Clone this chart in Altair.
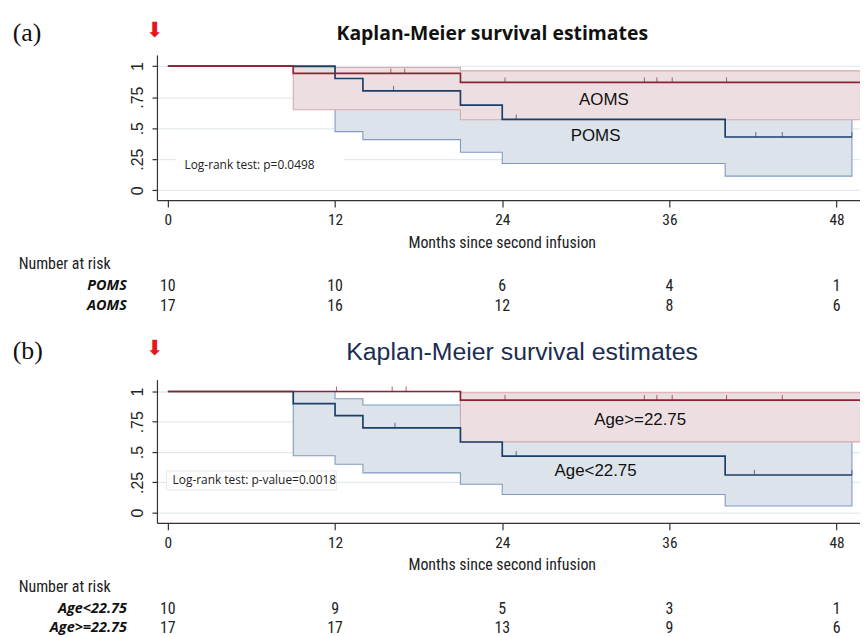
import altair as alt
import pandas as pd

# ---------------- data ----------------
risk_months = [0, 12, 24, 36, 48]
y_tick_values = [0, 0.25, 0.5, 0.75, 1]
y_tick_labels = ["0", ".25", ".5", ".75", "1"]

# panel (a)
a_aoms_t = [0, 9, 21, 51]
a_aoms_s = [1.0, 0.941, 0.869, 0.869]
a_aoms_ci_t = [9, 21, 51]
a_aoms_ci_lo = [0.648, 0.568, 0.568]
a_aoms_ci_hi = [0.989, 0.962, 0.962]
a_aoms_cens = [16.0, 17.0, 24.2, 34.2, 35.1, 36.2, 40.1]

a_poms_t = [0, 12, 14, 21, 24, 40, 49.1]
a_poms_s = [1.0, 0.9, 0.8, 0.686, 0.571, 0.429, 0.429]
a_poms_ci_t = [12, 14, 21, 24, 40, 49.1]
a_poms_ci_lo = [0.472, 0.408, 0.306, 0.216, 0.114, 0.114]
a_poms_ci_hi = [0.98, 0.95, 0.90, 0.82, 0.72, 0.72]
a_poms_cens = [16.2, 25.0, 42.2, 44.1, 49.1]

a_risk_poms = [10, 10, 6, 4, 1]
a_risk_aoms = [17, 16, 12, 8, 6]

# panel (b)
b_old_t = [0, 21, 51]
b_old_s = [1.0, 0.929, 0.929]
b_old_ci_t = [21, 51]
b_old_ci_lo = [0.584, 0.584]
b_old_ci_hi = [0.989, 0.989]
b_old_cens = [12.1, 16.1, 17.1, 24.2, 34.2, 35.1, 36.2, 40.1, 44.1]

b_young_t = [0, 9, 12, 14, 21, 24, 40, 49.1]
b_young_s = [1.0, 0.9, 0.8, 0.7, 0.583, 0.467, 0.311, 0.311]
b_young_ci_t = [9, 12, 14, 21, 24, 40, 49.1]
b_young_ci_lo = [0.47, 0.40, 0.328, 0.235, 0.15, 0.055, 0.055]
b_young_ci_hi = [1.0, 0.94, 0.888, 0.82, 0.76, 0.65, 0.65]
b_young_cens = [16.3, 25.0, 42.1, 49.1]

b_risk_young = [10, 9, 5, 3, 1]
b_risk_old = [17, 17, 13, 9, 6]

# ---------------- style ----------------
RED = "#8c2232"
BLUE = "#1b3f6b"
RED_FILL = "#eddfe1"
RED_EDGE = "#d7a9ae"
BLUE_FILL = "#dde3ea"
BLUE_EDGE = "#7f9bbd"
GRID = "#e3ebee"
AXIS = "#333333"
NARROW = "Liberation Sans Narrow, Arial Narrow, Roboto Condensed, Liberation Sans, Arial"
SANS = "Liberation Sans, Arial"
HUMAN = "Open Sans, Noto Sans"

W = 708
X0 = 157.3  # absolute left of plot area
XDOM = [-0.784, -0.784 + W / 14.03]


def step_lookup(ts, ss, c):
    v = ss[0]
    for t, s in zip(ts, ss):
        if t <= c:
            v = s
    return v


def xenc(field):
    return alt.X(field, type="quantitative",
                 scale=alt.Scale(domain=XDOM, nice=False, zero=False),
                 axis=alt.Axis(values=risk_months, title=None, grid=False,
                               tickSize=7, tickColor=AXIS, domainColor=AXIS,
                               domainWidth=1.2, tickWidth=1.2,
                               labelFont=NARROW, labelFontSize=15.5, labelColor="#222",
                               labelPadding=6, labelFlush=False))


def yenc(field, ydom):
    expr = "datum.value == 0 ? '0' : datum.value == 1 ? '1' : replace(format(datum.value, '.2~f'), '0.', '.')"
    return alt.Y(field, type="quantitative",
                 scale=alt.Scale(domain=ydom, nice=False, zero=False),
                 axis=alt.Axis(values=y_tick_values, title=None, grid=True,
                               gridColor=GRID, gridWidth=1.3,
                               tickSize=5, tickColor=AXIS, domainColor=AXIS,
                               domainWidth=1.2, tickWidth=1.2,
                               labelFont=SANS, labelFontSize=16, labelColor="#222",
                               labelAngle=270, labelAlign="center", labelBaseline="middle",
                               labelPadding=15, labelExpr=expr, labelFlush=False))


def txt(text, x, y, **kw):
    return alt.Chart(pd.DataFrame({"k": [0]})).mark_text(text=text, **kw).encode(
        x=alt.value(x), y=alt.value(y))


def panel(ydom, H, top_bound, bottom_bound, lowgrp, highgrp, lbl,
          title_kw, title_pos, logrank, box, box_stroke, grp_labels, axis_title_y,
          risk_rows, risk_labels):
    (lt, ls, lct, lclo, lchi, lcens) = lowgrp
    (ht, hs, hct, hclo, hchi, hcens) = highgrp
    X = xenc
    Y = lambda f: yenc(f, ydom)

    bound = alt.Chart(pd.DataFrame({"k": [0]})).mark_rect(opacity=0).encode(
        x=alt.value(8 - X0), x2=alt.value(W), y=alt.value(top_bound), y2=alt.value(bottom_bound))

    low_ci = alt.Chart(pd.DataFrame({"t": lct, "lo": lclo, "hi": lchi})).mark_area(
        interpolate="step-after", fill=BLUE_FILL, fillOpacity=1, stroke=BLUE_EDGE,
        strokeWidth=1.1, clip=True).encode(x=X("t"), y=Y("lo"), y2="hi")
    high_ci = alt.Chart(pd.DataFrame({"t": hct, "lo": hclo, "hi": hchi})).mark_area(
        interpolate="step-after", fill=RED_FILL, fillOpacity=1, stroke=RED_EDGE,
        strokeWidth=1.1, clip=True).encode(x=X("t"), y=Y("lo"), y2="hi")

    bx = alt.Chart(pd.DataFrame({"k": [0]})).mark_rect(
        fill="white", stroke=box_stroke, strokeWidth=1).encode(
        x=alt.value(box[0]), x2=alt.value(box[1]), y=alt.value(box[2]), y2=alt.value(box[3]))
    lr = txt(logrank[0], logrank[1], logrank[2], font=HUMAN, fontSize=12,
             color="#222", align="left", baseline="middle")

    low_line = alt.Chart(pd.DataFrame({"t": lt, "s": ls})).mark_line(
        interpolate="step-after", color=BLUE, strokeWidth=1.7, clip=True).encode(
        x=X("t"), y=Y("s"))
    high_line = alt.Chart(pd.DataFrame({"t": ht, "s": hs})).mark_line(
        interpolate="step-after", color=RED, strokeWidth=1.7, clip=True).encode(
        x=X("t"), y=Y("s"))
    low_c = alt.Chart(pd.DataFrame({"t": lcens, "s": [step_lookup(lt, ls, c) for c in lcens]})).mark_tick(
        orient="vertical", color=BLUE, size=5, thickness=1, yOffset=-2.5).encode(x=X("t"), y=Y("s"))
    high_c = alt.Chart(pd.DataFrame({"t": hcens, "s": [step_lookup(ht, hs, c) for c in hcens]})).mark_tick(
        orient="vertical", color=RED, size=5, thickness=1, yOffset=-2.5).encode(x=X("t"), y=Y("s"))

    gl = alt.Chart(pd.DataFrame(grp_labels)).mark_text(
        font=SANS, fontSize=17, color="#111", align="center", baseline="middle").encode(
        x=X("t"), y=Y("s"), text="label:N")

    layers = [bound, low_ci, high_ci, bx, lr, low_line, high_line, low_c, high_c, gl]

    layers.append(txt(lbl, 12 - X0, title_pos[1] - 1, font="Liberation Serif", fontSize=26,
                      color="#111", align="left", baseline="middle"))
    layers.append(txt("\u2B07", 155 - X0, title_pos[1] - 3, font="DejaVu Sans", fontSize=21,
                      color="#e8141c", align="center", baseline="middle"))
    layers.append(txt("Kaplan-Meier survival estimates", title_pos[0], title_pos[1],
                      align="center", baseline="middle", **title_kw))

    at = alt.Chart(pd.DataFrame({"t": [24], "label": ["Months since second infusion"]})).mark_text(
        font=NARROW, fontSize=16, color="#222", align="center", baseline="middle").encode(
        x=X("t"), y=alt.value(axis_title_y), text="label:N")
    layers.append(at)
    layers.append(txt("Number at risk", 18 - X0, axis_title_y + 22, font=NARROW, fontSize=16,
                      color="#222", align="left", baseline="middle"))
    for i, (counts, name) in enumerate(zip(risk_rows, risk_labels)):
        yy = axis_title_y + 44 + i * 19.5
        layers.append(txt(name, 127 - X0, yy, font=HUMAN, fontSize=14.5, fontStyle="italic",
                          fontWeight="bold", color="#111", align="right", baseline="middle"))
        layers.append(alt.Chart(pd.DataFrame({"t": risk_months, "n": counts})).mark_text(
            font=NARROW, fontSize=16, color="#222", align="center", baseline="middle").encode(
            x=X("t"), y=alt.value(yy), text="n:Q"))

    return alt.layer(*layers).properties(width=W, height=H)


pa = panel(
    ydom=[-0.08, 1.0904], H=146.3, top_bound=8 - 53, bottom_bound=325 - 53,
    lowgrp=(a_poms_t, a_poms_s, a_poms_ci_t, a_poms_ci_lo, a_poms_ci_hi, a_poms_cens),
    highgrp=(a_aoms_t, a_aoms_s, a_aoms_ci_t, a_aoms_ci_lo, a_aoms_ci_hi, a_aoms_cens),
    lbl="(a)",
    title_kw=dict(font=HUMAN, fontSize=19.5, fontWeight="bold", color="#111"),
    title_pos=(495 - X0, 32 - 53),
    logrank=("Log-rank test: p=0.0498", 185 - X0, 163.5 - 53),
    box=(177 - X0, 345 - X0, 151 - 53, 173 - 53), box_stroke="white",
    grp_labels={"t": [31.3, 30.7], "s": [0.73, 0.44], "label": ["AOMS", "POMS"]},
    axis_title_y=242 - 53,
    risk_rows=[a_risk_poms, a_risk_aoms], risk_labels=["POMS", "AOMS"],
)

pb = panel(
    ydom=[-0.0844, 1.098], H=144.3, top_bound=325 - 380, bottom_bound=629 - 380,
    lowgrp=(b_young_t, b_young_s, b_young_ci_t, b_young_ci_lo, b_young_ci_hi, b_young_cens),
    highgrp=(b_old_t, b_old_s, b_old_ci_t, b_old_ci_lo, b_old_ci_hi, b_old_cens),
    lbl="(b)",
    title_kw=dict(font=SANS, fontSize=25, color="#1c2c52"),
    title_pos=(525 - X0, 352 - 380),
    logrank=("Log-rank test: p-value=0.0018", 173 - X0, 481 - 380),
    box=(167 - X0, 338 - X0, 472 - 380, 491 - 380), box_stroke=GRID,
    grp_labels={"t": [33.9, 30.7], "s": [0.765, 0.347], "label": ["Age>=22.75", "Age<22.75"]},
    axis_title_y=567 - 380,
    risk_rows=[b_risk_young, b_risk_old], risk_labels=["Age<22.75", "Age>=22.75"],
)

chart = alt.vconcat(pa, pb, spacing=0).properties(padding=0).configure_view(stroke=None)

chart.save("out.html", embed_options={"renderer": "svg", "actions": False})
